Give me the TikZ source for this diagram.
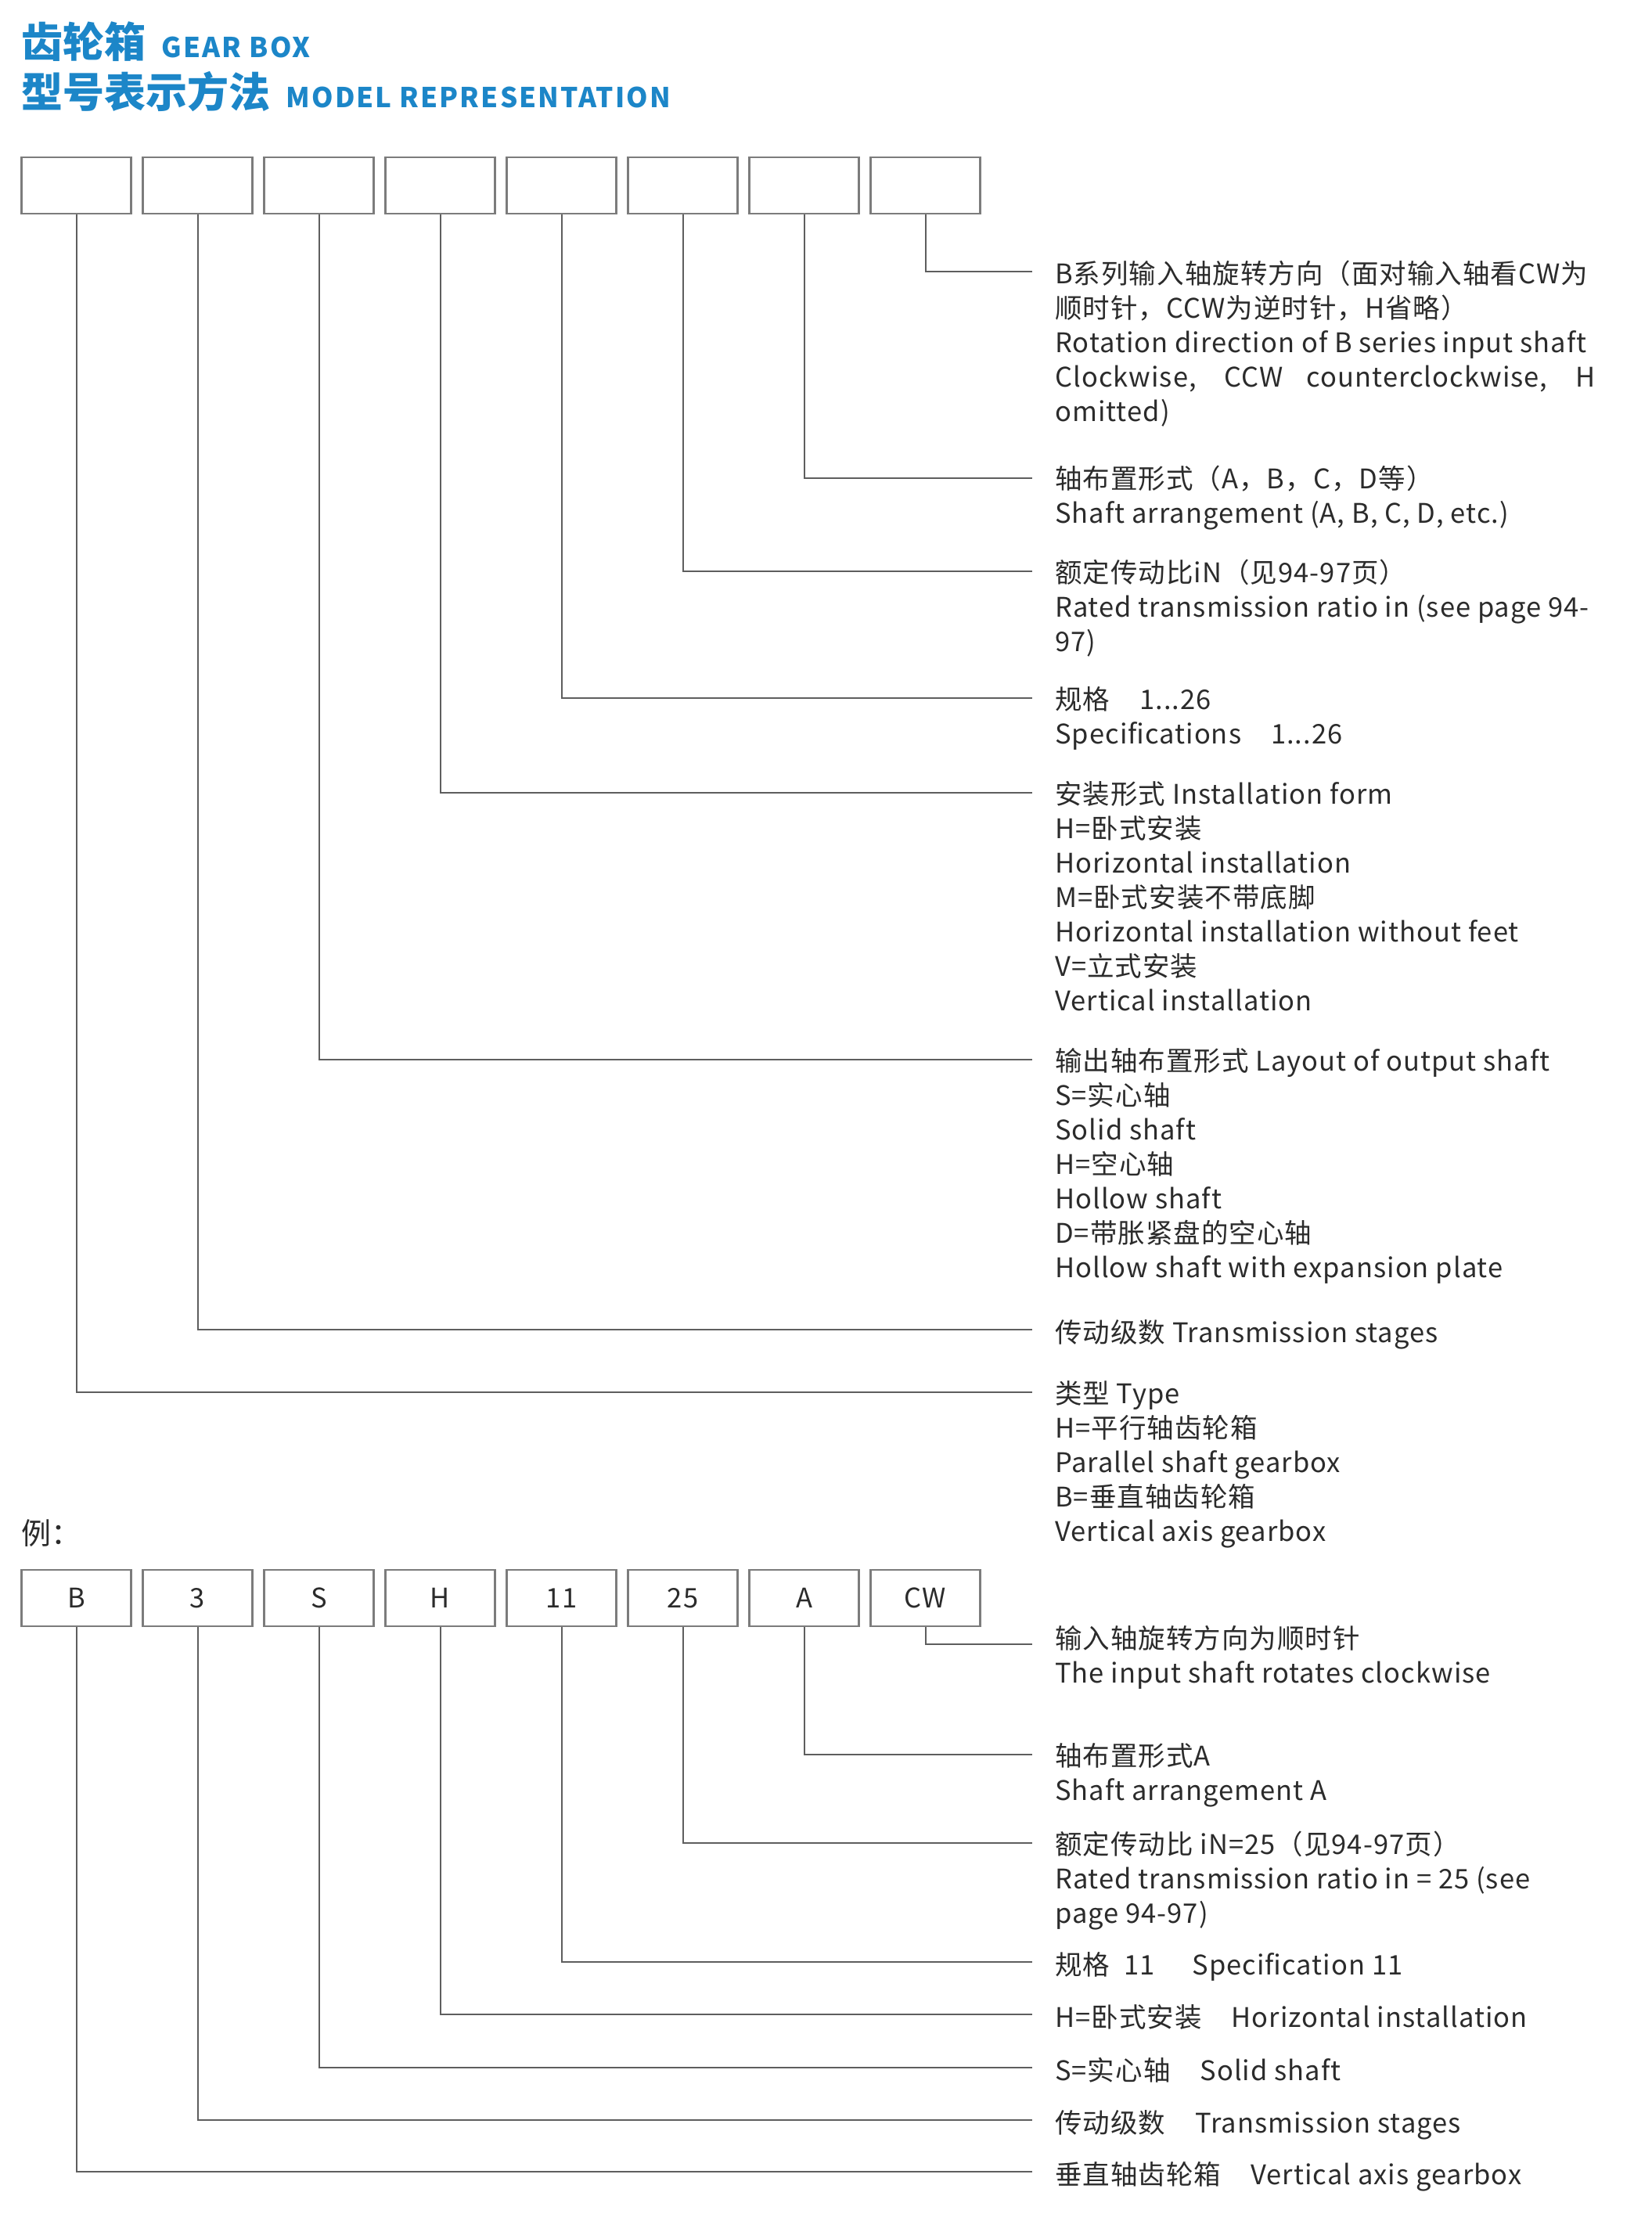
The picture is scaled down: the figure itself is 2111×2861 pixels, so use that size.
\documentclass[tikz,border=0pt]{standalone}
\usepackage{fontspec}
\usepackage{xcolor}
\setmainfont{Noto Sans CJK SC}
\usetikzlibrary{positioning}

\definecolor{titleblue}{HTML}{1C86C8}
\definecolor{inkgray}{HTML}{2B2B2B}
\definecolor{boxgray}{HTML}{7C7C7C}
\definecolor{leadgray}{HTML}{5E5E5E}
\newcommand{\descfont}{\fontsize{34.5}{44}\selectfont\addfontfeature{LetterSpace=3}}
\newcommand{\titlefont}{\fontsize{53}{60}\selectfont\bfseries}
\newcommand{\subtitlefont}{\fontsize{35}{40}\selectfont\bfseries\addfontfeature{LetterSpace=6}}
\newlength{\descw}
\setlength{\descw}{690pt}

\begin{document}
\begin{tikzpicture}[
  x=1pt, y=-1pt,
  codebox/.style={rectangle, draw=boxgray, line width=2.5pt, minimum width=140pt, minimum height=72pt, inner sep=0pt, font=\descfont, text=inkgray},
  leader/.style={draw=leadgray, line width=2pt},
  desc/.style={anchor=north west, yshift=26.8pt, align=left, inner sep=0pt, font=\descfont, text=inkgray, execute at begin node=\strut},
  heading/.style={anchor=base west, inner sep=0pt, text=titleblue}
]
  \useasboundingbox (0,0) rectangle (2111,2861);

  % heading
  \node[heading, font=\titlefont] (h1) at (27,74) {齿轮箱};
  \node[heading, font=\subtitlefont, right=20pt of h1.base east, anchor=base west] (h1e) {GEAR BOX};
  \node[heading, font=\titlefont] (h2) at (27,137) {型号表示方法};
  \node[heading, font=\subtitlefont, right=20pt of h2.base east, anchor=base west] (h2e) {MODEL REPRESENTATION};

  % empty code boxes
  \node[codebox] (t1) at (97.5,237) {};
  \node[codebox, right=12.5pt of t1] (t2) {};
  \node[codebox, right=12.5pt of t2] (t3) {};
  \node[codebox, right=12.5pt of t3] (t4) {};
  \node[codebox, right=12.5pt of t4] (t5) {};
  \node[codebox, right=12.5pt of t5] (t6) {};
  \node[codebox, right=12.5pt of t6] (t7) {};
  \node[codebox, right=12.5pt of t7] (t8) {};

  % ends of the leaders
  \coordinate (l8) at (1319,347);
  \coordinate (l7) at (1319,611);
  \coordinate (l6) at (1319,730);
  \coordinate (l5) at (1319,892);
  \coordinate (l4) at (1319,1013);
  \coordinate (l3) at (1319,1354);
  \coordinate (l2) at (1319,1699);
  \coordinate (l1) at (1319,1779);

  \node[desc] (d8) at (1348,360) {B系列输入轴旋转方向（面对输入轴看CW为\\
    顺时针，CCW为逆时针，H省略）\\
    Rotation direction of B series input shaft\\
    \makebox[\descw][s]{Clockwise, CCW counterclockwise, H}\\
    omitted)};
  \node[desc] (d7) at (1348,622) {轴布置形式（A，B，C，D等）\\
    Shaft arrangement (A, B, C, D, etc.)};
  \node[desc] (d6) at (1348,742) {额定传动比iN（见94-97页）\\
    Rated transmission ratio in (see page 94-\\
    97)};
  \node[desc] (d5) at (1348,904) {规格\hspace{38pt}1...26\\
    Specifications\hspace{38pt}1...26};
  \node[desc] (d4) at (1348,1025) {安装形式 Installation form\\
    H=卧式安装\\
    Horizontal installation\\
    M=卧式安装不带底脚\\
    Horizontal installation without feet\\
    V=立式安装\\
    Vertical installation};
  \node[desc] (d3) at (1348,1366) {输出轴布置形式 Layout of output shaft\\
    S=实心轴\\
    Solid shaft\\
    H=空心轴\\
    Hollow shaft\\
    D=带胀紧盘的空心轴\\
    Hollow shaft with expansion plate};
  \node[desc] (d2) at (1348,1711) {传动级数 Transmission stages};
  \node[desc] (d1) at (1348,1791) {类型 Type\\
    H=平行轴齿轮箱\\
    Parallel shaft gearbox\\
    B=垂直轴齿轮箱\\
    Vertical axis gearbox};

  \draw[leader] (t8.south) |- (l8);
  \draw[leader] (t7.south) |- (l7);
  \draw[leader] (t6.south) |- (l6);
  \draw[leader] (t5.south) |- (l5);
  \draw[leader] (t4.south) |- (l4);
  \draw[leader] (t3.south) |- (l3);
  \draw[leader] (t2.south) |- (l2);
  \draw[leader] (t1.south) |- (l1);

  % example
  \node[desc, font=\fontsize{38}{44}\selectfont] (ex) at (27,1968) {例：};

  \node[codebox] (e1) at (97.5,2042) {B};
  \node[codebox, right=12.5pt of e1] (e2) {3};
  \node[codebox, right=12.5pt of e2] (e3) {S};
  \node[codebox, right=12.5pt of e3] (e4) {H};
  \node[codebox, right=12.5pt of e4] (e5) {11};
  \node[codebox, right=12.5pt of e5] (e6) {25};
  \node[codebox, right=12.5pt of e6] (e7) {A};
  \node[codebox, right=12.5pt of e7] (e8) {CW};

  \coordinate (m8) at (1319,2101);
  \coordinate (m7) at (1319,2242);
  \coordinate (m6) at (1319,2355);
  \coordinate (m5) at (1319,2507);
  \coordinate (m4) at (1319,2574);
  \coordinate (m3) at (1319,2642);
  \coordinate (m2) at (1319,2709);
  \coordinate (m1) at (1319,2775);

  \node[desc] (f8) at (1348,2104) {输入轴旋转方向为顺时针\\
    The input shaft rotates clockwise};
  \node[desc] (f7) at (1348,2254) {轴布置形式A\\
    Shaft arrangement A};
  \node[desc] (f6) at (1348,2367) {额定传动比 iN=25（见94-97页）\\
    Rated transmission ratio in = 25 (see\\
    page 94-97)};
  \node[desc] (f5) at (1348,2519) {规格\hspace{18pt}11\hspace{48pt}Specification 11};
  \node[desc] (f4) at (1348,2586) {H=卧式安装\hspace{38pt}Horizontal installation};
  \node[desc] (f3) at (1348,2654) {S=实心轴\hspace{38pt}Solid shaft};
  \node[desc] (f2) at (1348,2721) {传动级数\hspace{38pt}Transmission stages};
  \node[desc] (f1) at (1348,2787) {垂直轴齿轮箱\hspace{38pt}Vertical axis gearbox};

  \draw[leader] (e8.south) |- (m8);
  \draw[leader] (e7.south) |- (m7);
  \draw[leader] (e6.south) |- (m6);
  \draw[leader] (e5.south) |- (m5);
  \draw[leader] (e4.south) |- (m4);
  \draw[leader] (e3.south) |- (m3);
  \draw[leader] (e2.south) |- (m2);
  \draw[leader] (e1.south) |- (m1);
\end{tikzpicture}
\end{document}
